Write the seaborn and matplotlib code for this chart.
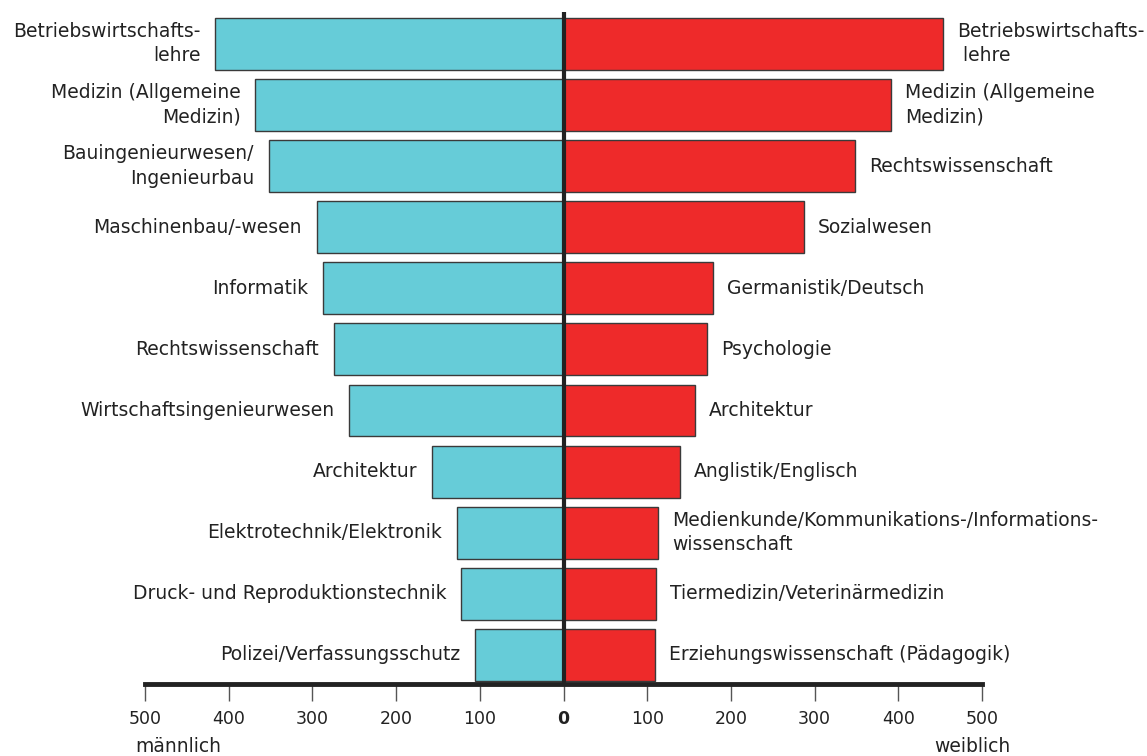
import numpy as np
import pandas as pd
import matplotlib
matplotlib.use("Agg")
import matplotlib.pyplot as plt
import seaborn as sns
from matplotlib.transforms import offset_copy

# ---- data ----
male_labels = [
    "Betriebswirtschafts-\nlehre",
    "Medizin (Allgemeine\nMedizin)",
    "Bauingenieurwesen/\nIngenieurbau",
    "Maschinenbau/-wesen",
    "Informatik",
    "Rechtswissenschaft",
    "Wirtschaftsingenieurwesen",
    "Architektur",
    "Elektrotechnik/Elektronik",
    "Druck- und Reproduktionstechnik",
    "Polizei/Verfassungsschutz",
]
male_values = [416, 368, 352, 295, 287, 274, 256, 157, 127, 122, 106]

female_labels = [
    "Betriebswirtschafts-\n lehre",
    "Medizin (Allgemeine\nMedizin)",
    "Rechtswissenschaft",
    "Sozialwesen",
    "Germanistik/Deutsch",
    "Psychologie",
    "Architektur",
    "Anglistik/Englisch",
    "Medienkunde/Kommunikations-/Informations-\nwissenschaft",
    "Tiermedizin/Veterinärmedizin",
    "Erziehungswissenschaft (Pädagogik)",
]
female_values = [453, 391, 348, 287, 179, 172, 157, 139, 113, 111, 109]

tick_values = [-500, -400, -300, -200, -100, 0, 100, 200, 300, 400, 500]
tick_labels = ["500", "400", "300", "200", "100", "0", "100", "200", "300", "400", "500"]
x_left_label = "männlich"
x_right_label = "weiblich"

# ---- style ----
sns.set_theme(style="white")
plt.rcParams["font.family"] = ["DejaVu Sans"]

MALE_COLOR = "#66CCD8"
FEMALE_COLOR = "#EE2A2A"
TEXT_COLOR = "#222222"

rank = [str(i) for i in range(len(male_values))]
df = pd.DataFrame({
    "rank": rank * 2,
    "value": [-v for v in male_values] + list(female_values),
    "sex": ["m"] * len(male_values) + ["w"] * len(female_values),
})

fig = plt.figure(figsize=(11.47, 7.56), dpi=100)
ax = fig.add_axes([145 / 1147, 1 - 684 / 756, (982 - 145) / 1147, (684 - 12) / 756])

sns.barplot(data=df, x="value", y="rank", hue="sex", order=rank,
            palette={"m": MALE_COLOR, "w": FEMALE_COLOR}, dodge=False,
            saturation=1, width=0.85, edgecolor="#3a3a3a", linewidth=1.0,
            orient="h", legend=False, ax=ax)

ax.set_xlim(-500, 500)
ax.set_ylim(10.475, -0.52)

ax.axvline(0, color=TEXT_COLOR, lw=3, zorder=5)

for s in ["top", "right", "left"]:
    ax.spines[s].set_visible(False)
ax.spines["bottom"].set_color(TEXT_COLOR)
ax.spines["bottom"].set_linewidth(3.5)

ax.set_yticks([])
ax.set_ylabel("")
ax.set_xlabel("")
ax.set_xticks(tick_values)
ax.set_xticklabels(tick_labels)
ax.tick_params(axis="x", direction="out", length=12, width=1, color="#555555",
               labelsize=12.5, labelcolor=TEXT_COLOR, pad=7, bottom=True)
for lbl in ax.get_xticklabels():
    if lbl.get_text() == "0":
        lbl.set_fontweight("bold")

left_tr = offset_copy(ax.transData, fig=fig, x=-15, y=0, units="dots")
right_tr = offset_copy(ax.transData, fig=fig, x=14, y=0, units="dots")
for i, (lab, v) in enumerate(zip(male_labels, male_values)):
    ax.text(-v, i, lab, transform=left_tr, ha="right", va="center",
            fontsize=13.5, color=TEXT_COLOR, linespacing=1.35, multialignment="right")
for i, (lab, v) in enumerate(zip(female_labels, female_values)):
    ax.text(v, i, lab, transform=right_tr, ha="left", va="center",
            fontsize=13.5, color=TEXT_COLOR, linespacing=1.35, multialignment="left")

fig.text(135 / 1147, 1 - 747 / 756, x_left_label, ha="left", va="center",
         fontsize=13.5, color=TEXT_COLOR)
fig.text(1010 / 1147, 1 - 747 / 756, x_right_label, ha="right", va="center",
         fontsize=13.5, color=TEXT_COLOR)

fig.savefig("out.png", dpi=100, facecolor="white")
